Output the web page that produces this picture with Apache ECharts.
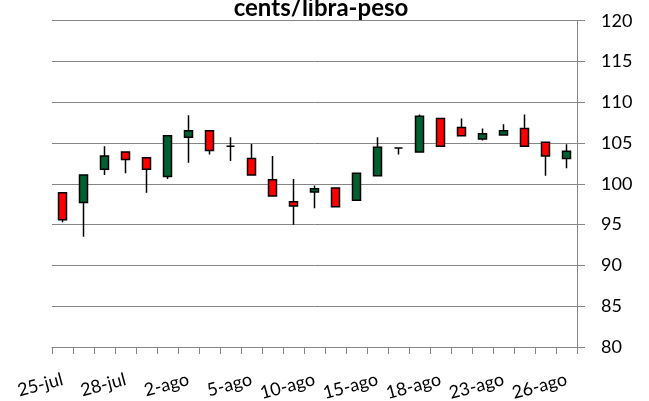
<!DOCTYPE html>
<html>
<head>
<meta charset="utf-8">
<script src="https://cdn.jsdelivr.net/npm/echarts@6/dist/echarts.min.js"></script>
<style>
  html, body { margin: 0; padding: 0; background: #fff; }
  #chart { width: 649px; height: 401px; }
</style>
</head>
<body>
<div id="chart"></div>
<script>
// fechas (días hábiles)
const dates = ['25-jul', '26-jul', '27-jul', '28-jul', '29-jul', '1-ago', '2-ago', '3-ago', '4-ago', '5-ago',
  '8-ago', '9-ago', '10-ago', '11-ago', '12-ago', '15-ago', '16-ago', '17-ago', '18-ago', '19-ago',
  '22-ago', '23-ago', '24-ago', '25-ago', '26-ago'];
// apertura, cierre, mínimo, máximo
const openVals  = [98.9, 97.7, 101.8, 103.9, 103.2, 100.9, 105.7, 106.5, 104.6, 103.1, 100.5, 97.8, 99.0, 99.5, 98.0, 101.0, 104.4, 103.9, 108.0, 106.9, 105.5, 106.0, 106.8, 105.1, 103.1];
const closeVals = [95.6, 101.1, 103.4, 103.0, 101.8, 105.9, 106.5, 104.1, 104.6, 101.1, 98.5, 97.3, 99.4, 97.2, 101.3, 104.5, 104.4, 108.3, 104.6, 105.9, 106.15, 106.5, 104.6, 103.4, 104.0];
const lowVals   = [95.3, 93.5, 101.1, 101.3, 98.9, 100.6, 102.6, 103.6, 102.8, 101.1, 98.5, 95.0, 97.0, 97.2, 98.0, 101.0, 103.6, 103.9, 104.6, 105.9, 105.3, 105.9, 104.6, 101.0, 101.9];
const highVals  = [98.9, 101.1, 104.6, 103.9, 103.3, 105.9, 108.4, 106.5, 105.7, 104.9, 103.4, 100.6, 99.8, 99.5, 101.3, 105.7, 104.4, 108.5, 108.0, 108.0, 106.8, 107.3, 108.5, 105.1, 104.85];

const candles = dates.map((d, i) => [openVals[i], closeVals[i], lowVals[i], highVals[i]]);

const chart = echarts.init(document.getElementById('chart'));
const font = 'Lato, "Open Sans", sans-serif';

chart.setOption({
  animation: false,
  title: {
    text: 'cents/libra-peso',
    left: 316,
    textAlign: 'center',
    top: -9,
    textStyle: { fontFamily: font, fontSize: 24, fontWeight: 'bold', color: '#000' }
  },
  grid: { left: 52, right: 72, top: 20.7, bottom: 54, outerBoundsMode: 'none', containLabel: false },
  xAxis: {
    type: 'category',
    data: dates,
    boundaryGap: true,
    axisLine: { lineStyle: { color: '#868686', width: 1 } },
    axisTick: { show: true, length: 7, interval: 0, lineStyle: { color: '#868686' } },
    axisLabel: {
      interval: 2,
      rotate: 15,
      margin: 32,
      fontFamily: font,
      fontSize: 18,
      color: '#000'
    },
    splitLine: { show: false }
  },
  yAxis: {
    type: 'value',
    position: 'right',
    min: 80,
    max: 120,
    interval: 5,
    axisLine: { show: true, lineStyle: { color: '#868686', width: 1 } },
    axisTick: { show: true, length: 8, lineStyle: { color: '#868686' } },
    axisLabel: { margin: 24, fontFamily: font, fontSize: 18, color: '#000' },
    splitLine: { show: true, lineStyle: { color: '#868686', width: 1 } }
  },
  series: [{
    type: 'candlestick',
    data: candles,
    barWidth: 9,
    itemStyle: {
      color: '#006030',
      color0: '#ff0000',
      borderColor: '#000',
      borderColor0: '#000',
      borderWidth: 1.5
    }
  }]
});
</script>
</body>
</html>
